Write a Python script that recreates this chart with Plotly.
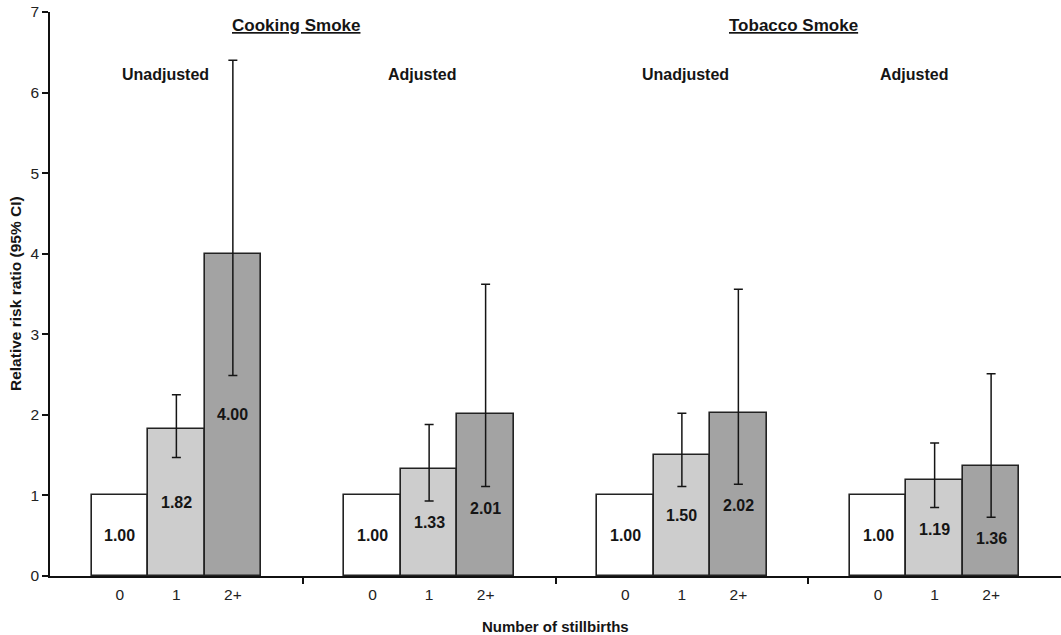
import plotly.graph_objects as go

# ---- data ----
groups = ["Cooking Smoke – Unadjusted", "Cooking Smoke – Adjusted",
          "Tobacco Smoke – Unadjusted", "Tobacco Smoke – Adjusted"]
categories = ["0", "1", "2+"]
rr_0 = [1.00, 1.00, 1.00, 1.00]
rr_1 = [1.82, 1.33, 1.50, 1.19]
rr_2 = [4.00, 2.01, 2.02, 1.36]
lo_1 = [1.47, 0.93, 1.11, 0.85]
hi_1 = [2.25, 1.88, 2.02, 1.65]
lo_2 = [2.49, 1.11, 1.14, 0.73]
hi_2 = [6.40, 3.62, 3.56, 2.51]
headers = ["Cooking Smoke", "Tobacco Smoke"]
subtitles = ["Unadjusted", "Adjusted", "Unadjusted", "Adjusted"]

# ---- layout helpers ----
FONT = "Liberation Sans, Arial, sans-serif"
INK = "#151515"
bar_w = 0.2235
offsets = [-bar_w, 0.0, bar_w]
colors = ["#ffffff", "#cdcdcd", "#a3a3a3"]
centers = [g + 0.5 for g in range(len(groups))]

fig = go.Figure()
series = [(rr_0, None, None), (rr_1, lo_1, hi_1), (rr_2, lo_2, hi_2)]
for k, (vals, lo, hi) in enumerate(series):
    xs = [c + offsets[k] for c in centers]
    if lo is None:
        err = dict(visible=False)
    else:
        err = dict(type="data", symmetric=False,
                   array=[h - v for h, v in zip(hi, vals)],
                   arrayminus=[v - l for v, l in zip(vals, lo)],
                   color=INK, thickness=1.5, width=4.5)
    fig.add_trace(go.Bar(x=xs, y=vals, width=bar_w, name=categories[k],
                         marker=dict(color=colors[k], line=dict(color="#222222", width=1.6)),
                         error_y=err, showlegend=False))

annotations = []
# value labels inside bars
for k, (vals, lo, hi) in enumerate(series):
    for g, v in enumerate(vals):
        y = v / 2 if lo is None else min(v / 2, lo[g] - 0.27)
        annotations.append(dict(x=centers[g] + offsets[k], y=y, xref="x", yref="y",
                                text=f"<b>{v:.2f}</b>", showarrow=False,
                                font=dict(family=FONT, size=16, color=INK)))
# headers
for h, x in zip(headers, [0.973, 2.94]):
    annotations.append(dict(x=x, y=6.83, xref="x", yref="y", text=f"<b><u>{h}</u></b>",
                            showarrow=False, font=dict(family=FONT, size=17, color=INK)))
for s, x in zip(subtitles, [0.455, 1.47, 2.516, 3.42]):
    annotations.append(dict(x=x, y=6.23, xref="x", yref="y", text=f"<b>{s}</b>",
                            showarrow=False, font=dict(family=FONT, size=16, color=INK)))
# axis titles
annotations.append(dict(x=0, xref="paper", xshift=-35, y=0.5, yref="paper",
                        text="<b>Relative risk ratio (95% CI)</b>", textangle=-90,
                        showarrow=False, xanchor="center", yanchor="middle",
                        font=dict(family=FONT, size=15.5, color=INK)))
annotations.append(dict(x=0.5, xref="paper", y=-0.0904, yref="paper",
                        text="<b>Number of stillbirths</b>", showarrow=False,
                        xanchor="center", yanchor="middle",
                        font=dict(family=FONT, size=15, color=INK)))

tickvals = [c + o for c in centers for o in offsets]
ticktext = [cat for _ in centers for cat in categories]

fig.update_layout(
    width=1061, height=635,
    margin=dict(l=50, r=0, t=12, b=59),
    paper_bgcolor="white", plot_bgcolor="white",
    font=dict(family=FONT, size=15, color=INK),
    annotations=annotations,
    bargap=0,
    xaxis=dict(range=[0, 4], showgrid=False, zeroline=False, showline=True,
               linecolor="#111111", linewidth=1.5,
               tickmode="array", tickvals=tickvals, ticktext=ticktext,
               ticks="", ticklabelstandoff=4,
               tickfont=dict(family=FONT, size=15.5, color="#222222"),
               minor=dict(tickmode="array", tickvals=[1, 2, 3], ticks="outside",
                          ticklen=6, tickwidth=1.5, tickcolor="#111111")),
    yaxis=dict(range=[0, 7], dtick=1, showgrid=False, zeroline=False, showline=True,
               linecolor="#111111", linewidth=1.5, ticks="outside", ticklen=6,
               tickwidth=1.5, tickcolor="#111111",
               tickfont=dict(family=FONT, size=15.5, color="#222222")),
)

fig.write_html("out.html", config={"displayModeBar": False})

# remove the default page margin so the figure sits at the window's top-left corner
with open("out.html", "r", encoding="utf-8") as f:
    html = f.read()
html = html.replace("<head>", "<head><style>html,body{margin:0;padding:0;overflow:hidden;}</style>", 1)
with open("out.html", "w", encoding="utf-8") as f:
    f.write(html)
